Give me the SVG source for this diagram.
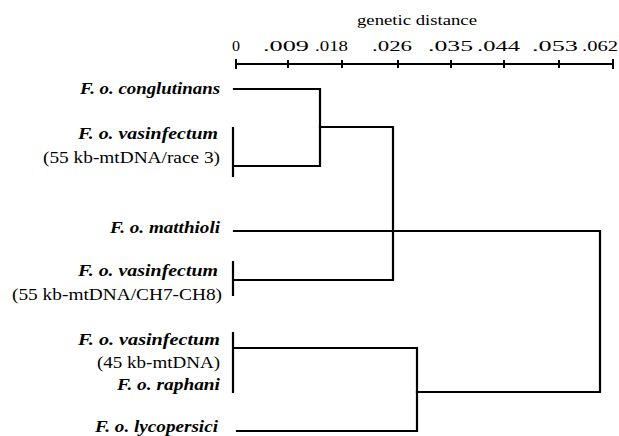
<svg xmlns="http://www.w3.org/2000/svg" width="619" height="436" viewBox="0 0 619 436">
<style>
.ln{stroke:#000;stroke-width:2.2;fill:none;stroke-linecap:square}
.ax{stroke:#000;stroke-width:2;fill:none}
.lab{font-family:"Liberation Serif","DejaVu Serif",serif;font-size:16px;font-style:italic;font-weight:bold;fill:#000}
.sub{font-family:"Liberation Serif","DejaVu Serif",serif;font-size:16px;fill:#000}
.tk{font-family:"Liberation Serif","DejaVu Serif",serif;font-size:15px;fill:#000}
</style>
<rect width="619" height="436" fill="#fff"/>
<g id="axis">
<text class="tk" x="357" y="25" textLength="120" lengthAdjust="spacingAndGlyphs">genetic distance</text>
<text class="tk" x="232" y="51" textLength="8" lengthAdjust="spacingAndGlyphs">0</text>
<text class="tk" x="263" y="51" textLength="46" lengthAdjust="spacingAndGlyphs">.009</text>
<text class="tk" x="315" y="51" textLength="33" lengthAdjust="spacingAndGlyphs">.018</text>
<text class="tk" x="372" y="51" textLength="40" lengthAdjust="spacingAndGlyphs">.026</text>
<text class="tk" x="428" y="51" textLength="45" lengthAdjust="spacingAndGlyphs">.035</text>
<text class="tk" x="477" y="51" textLength="43" lengthAdjust="spacingAndGlyphs">.044</text>
<text class="tk" x="532" y="51" textLength="46" lengthAdjust="spacingAndGlyphs">.053</text>
<text class="tk" x="582" y="51" textLength="36" lengthAdjust="spacingAndGlyphs">.062</text>
<path class="ax" d="M236 64H613M236 59V69M288 60V68M342 60V68M398 60V68M451 60V68M504 60V68M559 60V68M613 59V69"/>
</g>
<g id="n-conglutinans"><text class="lab" x="220" y="94" text-anchor="end" textLength="140" lengthAdjust="spacingAndGlyphs">F. o. conglutinans</text></g>
<g id="n-vas-race3">
<text class="lab" x="218" y="139" text-anchor="end" textLength="140" lengthAdjust="spacingAndGlyphs">F. o. vasinfectum</text>
<text class="sub" x="220" y="163" text-anchor="end" textLength="177" lengthAdjust="spacingAndGlyphs">(55 kb-mtDNA/race 3)</text>
</g>
<g id="n-matthioli"><text class="lab" x="220" y="233" text-anchor="end" textLength="110" lengthAdjust="spacingAndGlyphs">F. o. matthioli</text></g>
<g id="n-vas-ch7">
<text class="lab" x="218" y="276" text-anchor="end" textLength="140" lengthAdjust="spacingAndGlyphs">F. o. vasinfectum</text>
<text class="sub" x="222" y="300" text-anchor="end" textLength="210" lengthAdjust="spacingAndGlyphs">(55 kb-mtDNA/CH7-CH8)</text>
</g>
<g id="n-vas-45">
<text class="lab" x="220" y="345" text-anchor="end" textLength="142" lengthAdjust="spacingAndGlyphs">F. o. vasinfectum</text>
<text class="sub" x="220" y="368" text-anchor="end" textLength="123" lengthAdjust="spacingAndGlyphs">(45 kb-mtDNA)</text>
<text class="lab" x="220" y="390" text-anchor="end" textLength="103" lengthAdjust="spacingAndGlyphs">F. o. raphani</text>
</g>
<g id="n-lycopersici"><text class="lab" x="218" y="432" text-anchor="end" textLength="123" lengthAdjust="spacingAndGlyphs">F. o. lycopersici</text></g>
<g id="connectors">
<path class="ln" d="M234 89H320V166H233M233 128V176"/>
<path class="ln" d="M320 127H393V280H233M233 262V295"/>
<path class="ln" d="M234 231H600V392H417"/>
<path class="ln" d="M233 348H417V431H237M233 333V392"/>
</g>
</svg>
